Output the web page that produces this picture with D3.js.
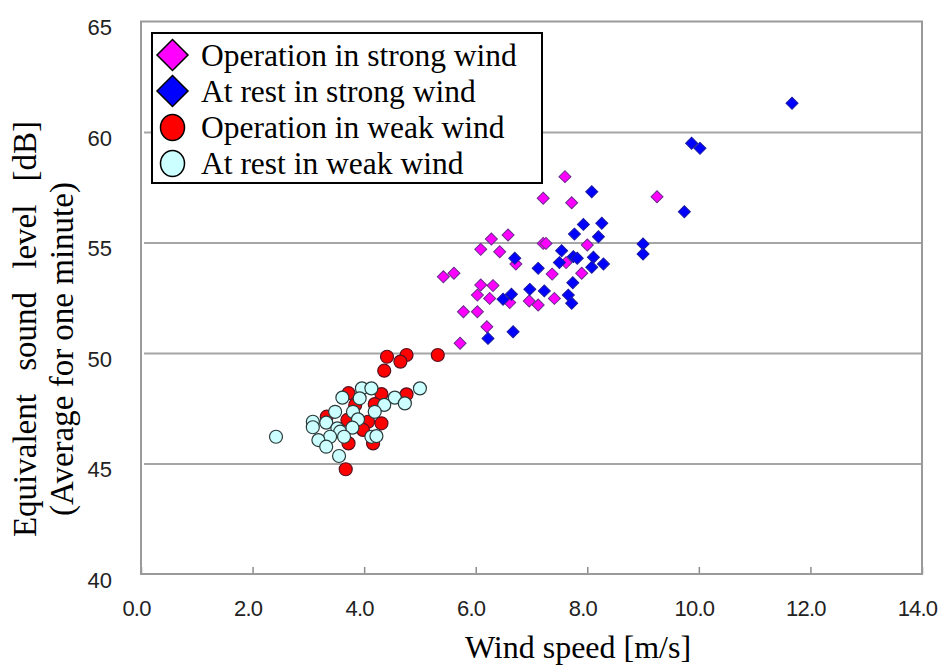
<!DOCTYPE html>
<html><head><meta charset="utf-8">
<script src="https://cdn.jsdelivr.net/npm/d3@7"></script>
<style>
html,body{margin:0;padding:0;background:#fff;}
svg{display:block;}
</style></head>
<body>
<svg id="chart" width="941" height="666"></svg>
<script>
// ---- data ----
const xTicks = [0, 2, 4, 6, 8, 10, 12, 14];
const yTicks = [40, 45, 50, 55, 60, 65];
const seriesNames = ["Operation in strong wind", "At rest in strong wind", "Operation in weak wind", "At rest in weak wind"];
const opStrong = [[7.60,57.98],[7.21,57.0],[7.72,56.8],[9.25,57.07],[6.28,55.16],[6.58,55.34],[6.09,54.69],[6.43,54.58],[7.21,54.96],[7.26,54.96],[8.0,54.89],[6.72,54.03],[7.62,54.09],[5.42,53.45],[5.61,53.61],[7.37,53.57],[7.90,53.61],[6.09,53.08],[6.31,53.05],[6.03,52.62],[6.25,52.47],[6.61,52.28],[6.96,52.35],[7.12,52.17],[7.41,52.47],[5.78,51.87],[6.03,51.87],[6.20,51.19],[5.72,50.44]];
const restStrong = [[8.08,57.3],[7.93,55.82],[7.77,55.38],[8.26,55.87],[8.2,55.26],[7.54,54.63],[7.50,54.09],[7.75,54.36],[7.82,54.29],[8.11,54.33],[8.08,53.88],[8.29,54.03],[6.70,54.29],[7.12,53.83],[7.74,53.18],[6.97,52.88],[7.23,52.81],[6.64,52.66],[6.49,52.43],[7.66,52.62],[7.72,52.25],[6.22,50.66],[6.67,50.96],[11.67,61.3],[9.87,59.49],[10.02,59.26],[9.74,56.39],[9.0,54.93],[9.0,54.48]];
const opWeak = [[4.41,49.83],[4.76,49.91],[4.65,49.61],[5.32,49.91],[4.36,49.2],[3.67,44.74],[3.72,48.18],[4.31,48.14],[4.76,48.13],[4.19,47.69],[3.84,47.65],[3.33,47.12],[3.70,46.97],[4.07,46.89],[4.31,46.82],[3.98,46.52],[3.72,45.91],[4.16,45.91]];
const restWeak = [[2.42,46.21],[5.0,48.4],[3.96,48.4],[4.13,48.4],[3.61,47.98],[3.92,47.95],[4.55,47.98],[4.73,47.72],[4.36,47.65],[3.48,47.34],[3.80,47.34],[4.19,47.34],[3.08,46.89],[3.08,46.64],[3.32,46.85],[3.89,47.0],[3.52,46.59],[3.57,46.44],[3.79,46.62],[3.39,46.21],[3.64,46.21],[3.18,46.06],[3.32,45.76],[4.13,46.21],[4.22,46.24],[3.55,45.34]];

// ---- layout ----
const svg = d3.select("#chart");
const L = 141, R = 922, T = 21.5, B = 574;
const x = d3.scaleLinear().domain([0, 14]).range([L, R]);
const y = d3.scaleLinear().domain([40, 65]).range([B, T]);
const tickFont = "'Liberation Sans',Arial,sans-serif";
const serif = "'Liberation Serif','Times New Roman',serif";

// gridlines
const grid = svg.append("g").attr("transform", `translate(${L},0)`)
  .call(d3.axisLeft(y).tickValues(yTicks.filter(v => v > 40 && v < 65)).tickSize(-(R - L)).tickFormat(""));
grid.select(".domain").remove();
grid.selectAll("line").attr("stroke", "#a6a6a6").attr("stroke-width", 2).attr("x1", 3);

// y tick labels
const yAx = svg.append("g").attr("transform", `translate(${L},0)`)
  .call(d3.axisLeft(y).tickValues(yTicks).tickSize(0).tickPadding(29).tickFormat(d3.format("d")));
yAx.select(".domain").remove();
yAx.selectAll("text").attr("font-family", tickFont).attr("font-size", 22).attr("fill", "#222").attr("dy", "0.6em");

// x axis
const xAx = svg.append("g").attr("transform", `translate(0,${B})`)
  .call(d3.axisBottom(x).tickValues(xTicks).tickSize(-7).tickPadding(26).tickFormat(d3.format(".1f")));
xAx.select(".domain").remove();
xAx.selectAll("line").attr("stroke", "#8c8c8c").attr("stroke-width", 1.5);
xAx.selectAll("text").attr("font-family", tickFont).attr("font-size", 22).attr("fill", "#222")
  .attr("dx", -5).attr("letter-spacing", -0.8);

// plot border
svg.append("rect").attr("x", L).attr("y", T).attr("width", R - L).attr("height", B - T)
  .attr("fill", "none").attr("stroke", "#9a9a9a").attr("stroke-width", 2);

// markers
function drawDiamonds(data, fill, stroke, hd) {
  svg.append("g").selectAll("path").data(data).join("path")
    .attr("transform", d => `translate(${x(d[0])},${y(d[1])}) rotate(45)`)
    .attr("d", d3.symbol().type(d3.symbolSquare).size((hd * Math.SQRT2) ** 2)())
    .attr("fill", fill).attr("stroke", stroke).attr("stroke-width", 1);
}
function drawCircles(data, fill, stroke, r) {
  svg.append("g").selectAll("circle").data(data).join("circle")
    .attr("cx", d => x(d[0])).attr("cy", d => y(d[1])).attr("r", r)
    .attr("fill", fill).attr("stroke", stroke).attr("stroke-width", 1.2);
}
drawDiamonds(opStrong, "#ff00ff", "#6a2c8c", 6);
drawDiamonds(restStrong, "#0000ff", "#1a1aa0", 6);
drawCircles(opWeak, "#ff0000", "#5a1020", 6.5);
drawCircles(restWeak, "#ccffff", "#2a3a3a", 6.5);

// legend
const lg = svg.append("g");
lg.append("rect").attr("x", 152).attr("y", 33).attr("width", 390).attr("height", 150)
  .attr("fill", "#fff").attr("stroke", "#000").attr("stroke-width", 2);
const legFill = ["#ff00ff", "#0000ff", "#ff0000", "#ccffff"];
const rowY = [55, 91, 127.5, 163.5];
seriesNames.forEach((name, i) => {
  const cy = rowY[i];
  if (i < 2) {
    lg.append("path").attr("transform", `translate(172.5,${cy}) rotate(45)`)
      .attr("d", d3.symbol().type(d3.symbolSquare).size((15.5 * Math.SQRT2) ** 2)())
      .attr("fill", legFill[i]).attr("stroke", "#000").attr("stroke-width", 1.5);
  } else {
    lg.append("ellipse").attr("cx", 172.5).attr("cy", cy).attr("rx", 12).attr("ry", 13)
      .attr("fill", legFill[i]).attr("stroke", "#000").attr("stroke-width", 1.5);
  }
  lg.append("text").attr("x", 201).attr("y", cy + 10.5).text(name)
    .attr("font-family", serif).attr("font-size", 31.5).attr("fill", "#000");
});

// axis titles
svg.append("text").attr("x", 578).attr("y", 658).attr("text-anchor", "middle")
  .attr("font-family", serif).attr("font-size", 32).attr("fill", "#000").text("Wind speed [m/s]");
svg.append("text").attr("transform", "translate(36,329) rotate(-90)").attr("text-anchor", "middle")
  .attr("font-family", serif).attr("font-size", 33).attr("fill", "#000")
  .style("word-spacing", "15px").text("Equivalent sound level [dB]");
svg.append("text").attr("transform", "translate(73,349) rotate(-90)").attr("text-anchor", "middle")
  .attr("font-family", serif).attr("font-size", 33).attr("fill", "#000").text("(Average for one minute)");
</script>
</body></html>
